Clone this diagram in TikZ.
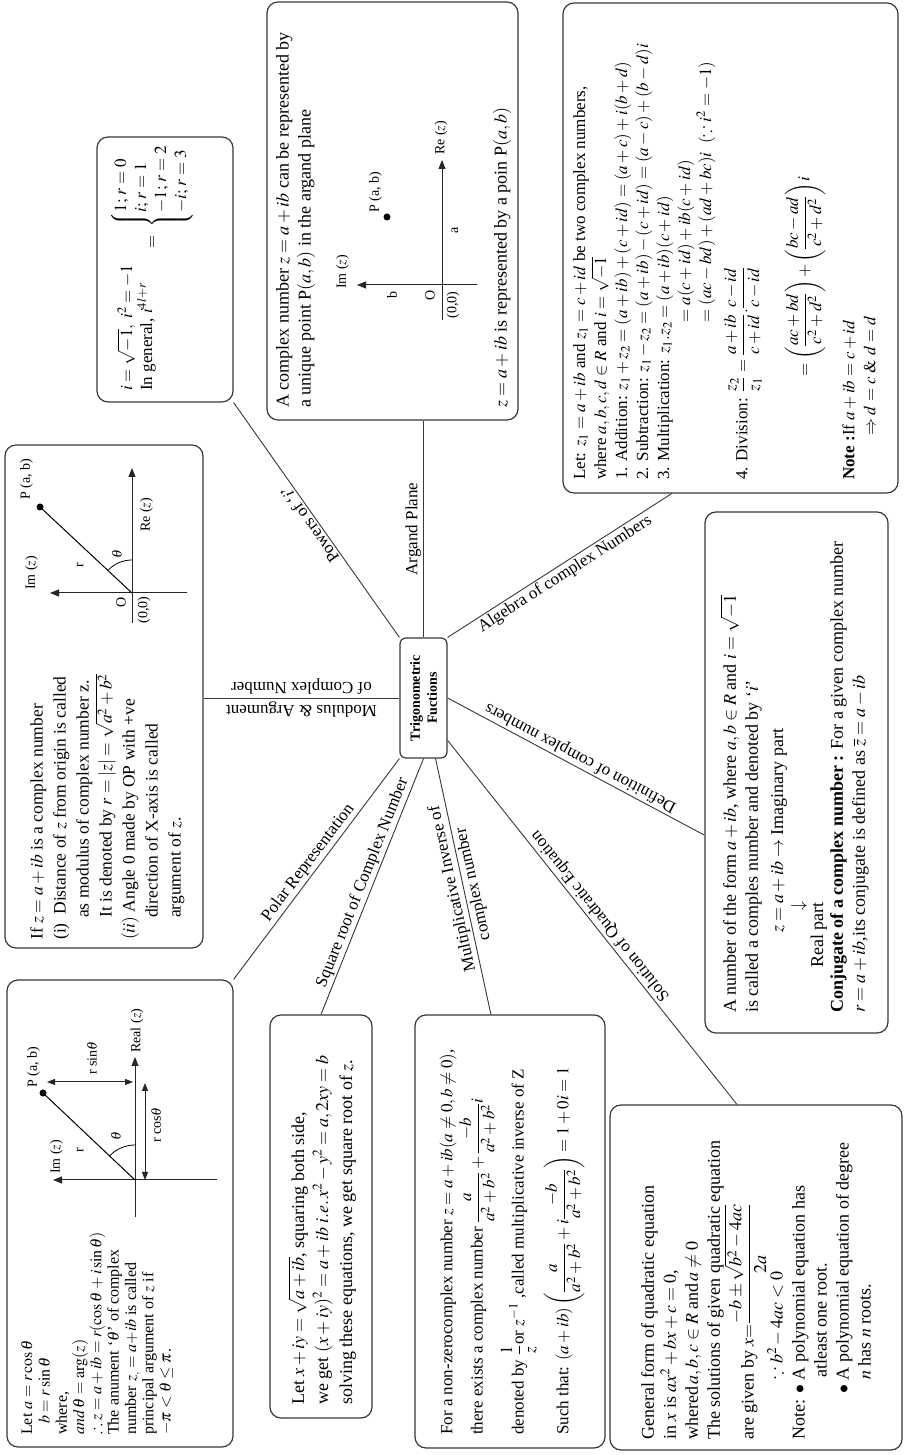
\documentclass[tikz,border=0pt]{standalone}
\usepackage{amsmath,amssymb}
\usepackage{mathptmx}
\usepackage{fontspec}
\setmainfont{Liberation Serif}
\usetikzlibrary{arrows.meta,calc}
\tikzset{
  box/.style={draw=black!78,line width=1.2pt,rounded corners=11pt,inner sep=0pt},
  con/.style={draw=black!78,line width=0.9pt},
  tx/.style={inner sep=0pt,align=left,anchor=north west},
  lab/.style={inner sep=2pt,font=\fontsize{17}{21}\selectfont},
  ax/.style={draw=black!85,line width=1pt,-{Triangle[length=9pt,width=7pt]}},
  dax/.style={draw=black!85,line width=1pt,{Triangle[length=8pt,width=6pt]}-{Triangle[length=8pt,width=6pt]}},
  dg/.style={inner sep=0pt,font=\fontsize{14}{16}\selectfont},
}
\begin{document}
\begin{tikzpicture}[x=1pt,y=1pt]
\begin{scope}[rotate=90,transform shape]
\fill[white] (0,0) rectangle (1455,-905);
\useasboundingbox (0,0) rectangle (1455,-905);
% ---------- boxes
\node[box,minimum width=467pt,minimum height=226pt] (pol) at (241.5,-120) {};
\node[box,minimum width=503pt,minimum height=198pt] (mod) at (758.5,-104) {};
\node[box,minimum width=265pt,minimum height=136pt] (pow) at (1185.5,-165) {};
\node[box,minimum width=418pt,minimum height=251pt] (arg) at (1244,-392.5) {};
\node[box,minimum width=490pt,minimum height=335pt] (alg) at (1207,-730.5) {};
\node[box,minimum width=521pt,minimum height=183pt] (df) at (682.5,-796.5) {};
\node[box,minimum width=345pt,minimum height=292pt] (qd) at (177.5,-756) {};
\node[box,minimum width=433pt,minimum height=190pt] (mi) at (223.5,-510) {};
\node[box,minimum width=403pt,minimum height=102pt] (sq) at (238.5,-321) {};
\node[draw=black!78,line width=1.2pt,rounded corners=6pt,minimum width=120pt,minimum height=47pt,inner sep=0pt,align=center,font=\bfseries\fontsize{14}{17}\selectfont] (hub) at (757,-423.5) {Trigonometric\\Fuctions};
% ---------- connectors
\draw[con] (hub.north east) -- node[lab,anchor=south,rotate=35.3]{Powers of `$i$'} (pow.south west);
\draw[con] (hub.east) -- node[lab,anchor=south]{Argand Plane} (arg.west |- hub.east);
\draw[con] (hub.south east) -- node[lab,anchor=north,rotate=-57.4]{Algebra of complex Numbers} ($(alg.north west)!0.325!(alg.south west)$);
\draw[con] (hub.north) -- node[lab,align=center,rotate=90,font=\fontsize{17}{23}\selectfont]{Modulus \& Argument\\of Complex Number} (hub.north |- mod.south);
\draw[con] (hub.north west) -- node[lab,anchor=south,rotate=-37]{Polar Representation} (pol.south east);
\draw[con] (hub.west) -- node[lab,anchor=south,rotate=-21.7]{Square root of Complex Number} (sq.east);
\draw[con] ($(hub.west)!0.5!(hub.south west)$) -- node[lab,align=center,rotate=12.5]{Multiplicative Inverse of\\complex number} ($(mi.north east)!0.4!(mi.south east)$);
\draw[con] ($(hub.south west)!0.3!(hub.south)$) -- node[lab,anchor=north,rotate=38.5]{Solution of Quadratic Equation} ($(qd.north east)!0.435!(qd.south east)$);
\draw[con] (hub.south) -- node[lab,anchor=north,rotate=62]{Definition of complex numbers} ($(df.north west)!0.38!(df.north east)$);
% ---------- polar box
\node[tx,font=\fontsize{16}{17.3}\selectfont] (polt) at (20,-21) {Let $a=r\cos\theta$\\
\hspace*{11pt}$b=r\sin\theta$\\
where,\\
$and\,\theta=\arg(z)$\\
$\therefore z=a+ib=r(\cos\theta+i\sin\theta)$\\
The anument `$\theta$' of complex\\
number $z_{,}=a{+}ib$ is called\\
principal argument of $z$ if\\
$-\pi<\theta\le\pi$.};
\draw[ax] (275,-217) -- (275,-53);
\draw[ax] (238,-135) -- (398,-135);
\draw[line width=1pt] (275,-135) -- (362,-43);
\fill (362,-43) circle (3.5);
\draw[line width=0.8pt] (310,-135) arc[start angle=0,end angle=46.6,radius=35];
\node[dg] at (319,-116) {$\theta$};
\node[dg] at (305,-80) {r};
\node[dg,anchor=north west] at (281,-50) {Im ($z$)};
\node[dg,anchor=west] at (402,-137) {Real ($z$)};
\node[dg,anchor=south west] at (367,-40) {P (a, b)};
\draw[dax] (373,-47) -- (373,-133);
\node[dg,anchor=west] at (380,-92) {r sin$\theta$};
\draw[dax] (275,-145) -- (372,-145);
\node[dg,anchor=north] at (330,-151) {r cos$\theta$};
% ---------- modulus box
\node[tx,font=\fontsize{17.5}{23}\selectfont] (modt) at (515,-30) {If $z=a+ib$ is a complex number\\
(i)\ \ Distance of $z$ from origin is called\\
\hspace*{22pt}as modulus of complex number z.\\
\hspace*{22pt}It is denoted by $r=\left|z\right|=\sqrt{a^2+b^2}$\\
$(ii)$ Angle 0 made by OP with +ve\\
\hspace*{22pt}direction of X-axis is called\\
\hspace*{22pt}argument of $z$.};
\draw[ax] (862,-187) -- (862,-50);
\draw[ax] (832,-132) -- (987,-132);
\draw[line width=1pt] (862,-132) -- (948,-40);
\fill (948,-40) circle (3.5);
\draw[line width=0.8pt] (895,-132) arc[start angle=0,end angle=47,radius=33];
\node[dg] at (901,-117) {$\theta$};
\node[dg] at (890,-80) {r};
\node[dg] at (853,-121) {O};
\node[dg] at (845,-144) {(0,0)};
\node[dg,anchor=north] at (940,-140) {Re ($z$)};
\node[dg,anchor=south west] at (865,-38) {Im ($z$)};
\node[dg,anchor=south west] at (955,-33) {P (a, b)};
% ---------- powers box
\node[tx,font=\fontsize{17}{20}\selectfont] (powt) at (1064,-117) {$i=\sqrt{-1},\ i^2=-1$\\ In general, $i^{4l+r}$};
\node[inner sep=0pt,anchor=west,font=\fontsize{17}{20}\selectfont] (powc) at (1206,-152) {$=\ \left\{\begin{array}{@{}l@{}}1;\,r=0\\ i;\,r=1\\ -1;\,r=2\\ -i;\,r=3\end{array}\right.$};
% ---------- argand box
\node[tx,font=\fontsize{18}{22}\selectfont] (art1) at (1047,-276) {A complex number $z=a+ib$ can be represented by\\ a unique point P$(a,b)$ in the argand plane};
\node[inner sep=0pt,anchor=west,font=\fontsize{18}{22}\selectfont] (art2) at (1047,-502) {$z=a+ib$ is represented by a poin P$(a,b)$};
\draw[ax] (1170,-477) -- (1170,-357);
\draw[ax] (1135,-442) -- (1295,-442);
\fill (1238,-387) circle (3.5);
\node[dg,anchor=south west] at (1242,-382) {P (a, b)};
\node[dg,anchor=south] at (1183,-349) {Im ($z$)};
\node[dg] at (1160,-392) {b};
\node[dg] at (1160,-430) {O};
\node[dg] at (1150,-453) {(0,0)};
\node[dg] at (1225,-455) {a};
\node[dg,anchor=west] at (1300,-441) {Re ($z$)};
% ---------- algebra box
\node[tx,font=\fontsize{17}{21}\selectfont] (algt) at (975,-573) {Let: $z_1=a+ib$ and $z_1=c+id$ be two complex numbers,\\
where $a,b,c,d\in R$ and $i=\sqrt{-1}$\\
1. Addition: $z_1+z_2=(a+ib)+(c+id)=(a+c)+i(b+d)$\\
2. Subtraction: $z_1-z_2=(a+ib)-(c+id)=(a-c)+(b-d)i$\\
3. Multiplication: $z_1.z_2=(a+ib)(c+id)$\\
\hphantom{3. Multiplication: $z_1.z_2$}$=a(c+id)+ib(c+id)$\\
\hphantom{3. Multiplication: $z_1.z_2$}$=(ac-bd)+(ad+bc)i\ \ (\because i^2=-1)$\\[8pt]
4. Division: $\dfrac{z_2}{z_1}=\dfrac{a+ib}{c+id}.\dfrac{c-id}{c-id}$\\[22pt]
\hphantom{4. Division: $\dfrac{z_2}{z_1}$}$=\left(\dfrac{ac+bd}{c^2+d^2}\right)+\left(\dfrac{bc-ad}{c^2+d^2}\right)i$\\[16pt]
\textbf{Note :}If $a+ib=c+id$\\
\hphantom{\textbf{Note :}}$\Rightarrow d=c\ \&\ d=d$};
% ---------- definition box
\node[tx,font=\fontsize{18}{22}\selectfont] (dft1) at (442,-720) {A number of the form $a+ib$, where $a,b\in R$ and $i=\sqrt{-1}$\\ is called a comples number and denoted by `$i$'};
\node[inner sep=0pt,anchor=base west,font=\fontsize{18}{22}\selectfont] (dft2) at (522,-783) {$z=a+ib\rightarrow$ Imaginary part};
\node[inner sep=0pt,font=\fontsize{18}{22}\selectfont] (dft3) at (549,-799) {$\downarrow$};
\node[inner sep=0pt,anchor=base,font=\fontsize{18}{22}\selectfont] (dft4) at (520,-823) {Real part};
\node[tx,font=\fontsize{18}{22}\selectfont] (dft5) at (442,-830) {\textbf{Conjugate of a complex number :} For a given complex number\\ $r=a+ib$,its conjugate is defined as $\overline{z}=a-ib$};
% ---------- quadratic box
\node[inner sep=0pt,align=left,anchor=west,font=\fontsize{18}{22}\selectfont] (qdt) at (15,-756) {General form of quadratic equation\\
in $x$ is $ax^2+bx+c=0$,\\
whered$\,a,b,c\in R$ and$\,a\ne0$\\
The solutions of given quadratic equation\\
are given by $x{=}\dfrac{-b\pm\sqrt{b^2-4ac}}{2a}$\\
\hspace*{60pt}$\because b^2-4ac<0$\\
Note: $\bullet$ A polynomial equation has\\
\hspace*{62pt}atleast one root.\\
\hspace*{46pt}$\bullet$ A polynomial equation of degree\\
\hspace*{60pt}$n$ has $n$ roots.};
% ---------- multiplicative inverse box
\node[inner sep=0pt,align=left,anchor=west,font=\fontsize{17}{22}\selectfont] (mit) at (20,-512) {For a non-zerocomplex number $z=a+ib(a\ne0,b\ne0)$,\\[2pt]
there exists a complex number $\dfrac{a}{a^2+b^2}+\dfrac{-b}{a^2+b^2}i$\\[4pt]
denoted by $\dfrac{1}{z}$or $z^{-1}$ ,called multiplicative inverse of Z\\[6pt]
Such that: $(a+ib)\left(\dfrac{a}{a^2+b^2}+i\dfrac{-b}{a^2+b^2}\right)=1+0i=1$};
% ---------- square root box
\node[inner sep=0pt,align=left,anchor=west,font=\fontsize{18}{24}\selectfont] (sqt) at (50,-322) {Let $x+iy=\sqrt{a+ib}$, squaring both side,\\ we get $(x+iy)^2=a+ib$ $i.e.\,x^2-y^2=a,2xy=b$\\ solving these equations, we get square root of $z$.};
\end{scope}
\end{tikzpicture}
\end{document}
